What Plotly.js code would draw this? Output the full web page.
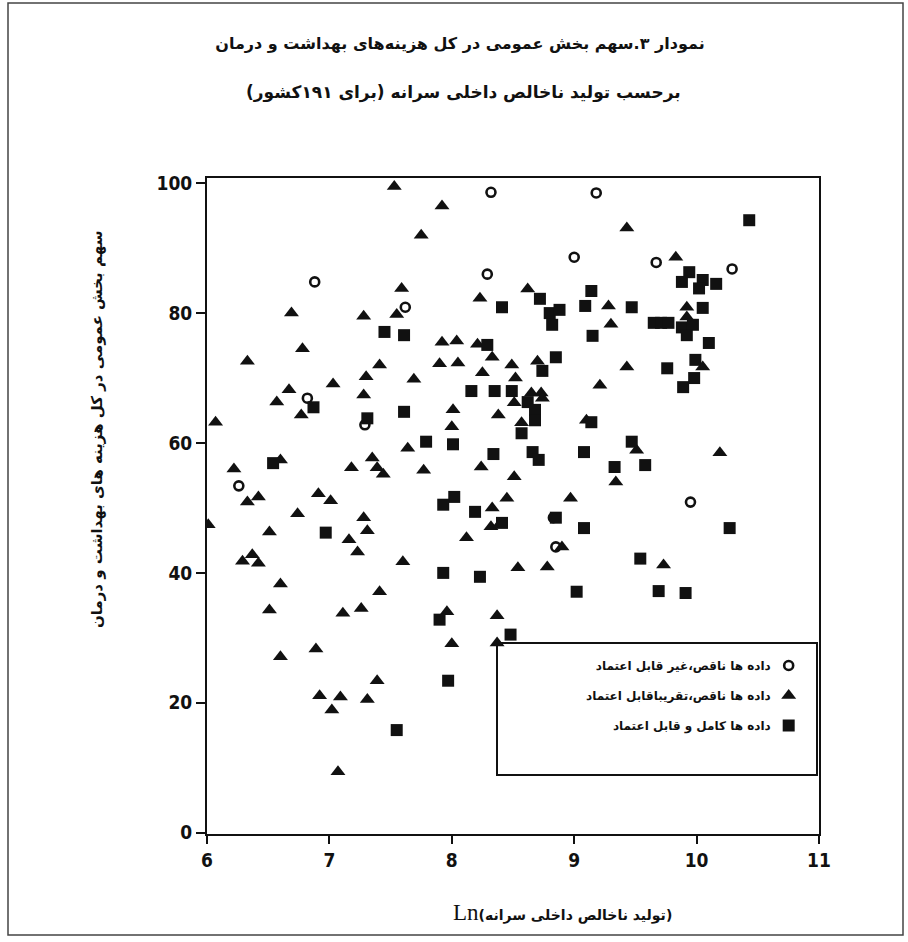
<!DOCTYPE html>
<html>
<head>
<meta charset="utf-8">
<script src="https://cdn.plot.ly/plotly-3.0.1.min.js"></script>
<style>html,body{margin:0;padding:0;background:#fff}#chart{width:908px;height:942px}</style>
</head>
<body>
<div id="chart"></div>
<script>
// ---- Data (x = Ln GDP per capita, y = public share of total health expenditure %) ----
const unreliableX = [6.88, 6.26, 6.82, 7.62, 7.29, 8.32, 8.29, 9.18, 9.00, 9.67, 10.29, 9.95, 8.83, 8.85];
const unreliableY = [84.8, 53.4, 66.9, 80.9, 62.8, 98.6, 86.0, 98.5, 88.6, 87.8, 86.8, 50.9, 48.5, 44.0];

const fairX = [7.53, 7.59, 6.69, 7.28, 7.55, 6.78, 6.33, 7.41, 7.30, 7.03, 6.67, 7.28, 6.57, 6.77, 6.07,
  7.64, 6.60, 6.22, 7.18, 7.35, 7.39, 7.44, 6.33, 6.42, 6.91, 7.01, 6.74, 6.01, 6.51, 7.28,
  7.31, 7.16, 7.23, 6.29, 6.37, 6.42, 7.60, 6.60, 7.41, 6.51, 7.11, 7.26, 6.60, 6.89, 7.39,
  6.92, 7.09, 7.31, 7.02, 7.07, 7.92, 7.75, 8.62, 8.23, 9.28, 9.30, 7.92, 8.04, 7.90, 8.05,
  7.69, 8.21, 8.33, 8.25, 8.49, 8.52, 8.70, 9.21, 8.65, 8.73, 8.51, 8.57, 8.74, 8.01, 8.00,
  7.77, 8.38, 8.24, 8.51, 9.10, 9.34, 8.45, 8.33, 8.32, 8.39, 8.12, 8.97, 8.90, 8.54, 8.78,
  7.96, 8.37, 8.00, 8.37, 9.43, 9.83, 9.92, 9.92, 9.43, 10.05, 9.51, 10.19, 9.73];
const fairY = [99.5, 83.8, 80.0, 79.5, 79.8, 74.5, 72.6, 72.0, 70.2, 69.1, 68.2, 67.4, 66.3, 64.3, 63.2,
  59.2, 57.4, 56.0, 56.2, 57.7, 56.2, 55.2, 50.9, 51.7, 52.2, 51.1, 49.1, 47.4, 46.3, 48.5,
  46.5, 45.1, 43.2, 41.8, 42.8, 41.5, 41.7, 38.3, 37.1, 34.3, 33.8, 34.5, 27.1, 28.3, 23.4,
  21.1, 20.9, 20.5, 18.9, 9.4, 96.5, 92.0, 83.7, 82.3, 81.1, 78.3, 75.5, 75.7, 72.2, 72.3,
  69.8, 75.2, 73.2, 70.8, 72.0, 70.0, 72.6, 68.9, 67.7, 67.7, 66.2, 63.1, 66.9, 65.1, 62.5,
  55.8, 64.3, 56.3, 54.8, 63.5, 54.0, 51.5, 50.0, 47.1, 47.5, 45.4, 51.5, 44.0, 40.8, 40.9,
  34.0, 33.4, 29.1, 29.2, 93.1, 88.6, 80.9, 79.4, 71.7, 71.7, 58.9, 58.5, 41.2];

const reliableX = [7.45, 7.61, 6.87, 7.31, 7.61, 6.54, 6.97, 7.55, 8.41, 8.72, 8.80, 8.88, 8.82, 9.14, 9.09,
  9.15, 8.29, 8.85, 8.74, 8.16, 8.35, 8.49, 8.62, 8.68, 8.68, 8.57, 7.79, 8.01, 8.34, 8.66,
  8.71, 9.14, 9.08, 9.33, 8.02, 7.93, 8.19, 8.41, 8.85, 9.08, 7.93, 8.23, 9.02, 7.90, 8.48,
  7.97, 10.43, 9.94, 9.88, 10.05, 10.02, 10.16, 9.47, 10.05, 9.65, 9.71, 9.77, 9.88, 9.97, 9.92,
  10.10, 9.76, 9.99, 9.98, 9.89, 9.47, 9.58, 10.27, 9.54, 9.69, 9.91];
const reliableY = [77.1, 76.6, 65.5, 63.8, 64.8, 56.9, 46.2, 15.8, 80.9, 82.2, 80.0, 80.5, 78.2, 83.4, 81.1,
  76.5, 75.1, 73.2, 71.1, 68.0, 68.0, 68.0, 66.3, 65.1, 63.5, 61.5, 60.2, 59.8, 58.3, 58.6,
  57.4, 63.2, 58.6, 56.3, 51.7, 50.5, 49.4, 47.7, 48.5, 46.9, 40.0, 39.4, 37.1, 32.8, 30.5,
  23.4, 94.3, 86.3, 84.8, 85.1, 83.8, 84.5, 80.9, 80.8, 78.5, 78.5, 78.5, 77.8, 78.2, 76.6,
  75.4, 71.5, 72.8, 70.0, 68.6, 60.2, 56.6, 46.9, 42.2, 37.2, 36.9];

const seriesNames = ['داده ها ناقص،غیر قابل اعتماد', 'داده ها ناقص،تقریباقابل اعتماد', 'داده ها کامل و قابل اعتماد'];
const xTickVals = [6, 7, 8, 9, 10, 11];
const yTickVals = [0, 20, 40, 60, 80, 100];
const titleLine1 = '\u200Fنمودار ۳.سهم بخش عمومی در کل هزینه‌های بهداشت و درمان\u200F';
const titleLine2 = '\u200Fبرحسب تولید ناخالص داخلی سرانه (برای ۱۹۱کشور)\u200F';
const yTitle = '\u200Fسهم بخش عمومی در کل هزینه های بهداشت و درمان\u200F';
const xTitle = 'تولید ناخالص داخلی سرانه';

// ---- Layout geometry (pixels) ----
const W = 908, H = 942;
const L = 207, R = 819, T = 178, B = 834;
const pw = R - L, ph = B - T;
const px2x = p => (p - L) / pw;
const py2y = p => (B - p) / ph;

const persian = 'DejaVu Sans, sans-serif';
const tickFont = {family: 'Liberation Sans Narrow, DejaVu Sans Condensed, Arial Narrow, sans-serif', size: 19, color: '#111', weight: 'bold'};

const traces = [
  {x: unreliableX, y: unreliableY, name: seriesNames[0], legendgroup: 'a', type: 'scatter', mode: 'markers',
   marker: {symbol: 'circle-open', size: 9, color: '#111', line: {width: 2.6, color: '#111'}}},
  {x: fairX, y: fairY, name: seriesNames[1], legendgroup: 'b', type: 'scatter', mode: 'markers',
   marker: {symbol: 'triangle-up', size: 13, color: '#111'}},
  {x: reliableX, y: reliableY, name: seriesNames[2], legendgroup: 'c', type: 'scatter', mode: 'markers',
   marker: {symbol: 'square', size: 12, color: '#111'}}
];

const layout = {
  width: W, height: H,
  margin: {l: L, r: W - R, t: T, b: H - B, pad: 0},
  paper_bgcolor: '#fff', plot_bgcolor: '#fff',
  showlegend: true,
  title: {text: titleLine1, font: {family: persian, size: 16, weight: 'bold', color: '#111'},
          x: 460 / W, xref: 'container', xanchor: 'center', y: 1 - 43 / H, yref: 'container', yanchor: 'middle'},
  xaxis: {range: [6, 11], tickvals: xTickVals, ticktext: xTickVals.map(String), showgrid: false, zeroline: false,
          showline: true, linewidth: 2, linecolor: '#111', mirror: true,
          ticks: 'outside', ticklen: 8, tickwidth: 2, tickcolor: '#111', tickfont: tickFont},
  yaxis: {range: [-0.2, 100.8], tickvals: yTickVals, ticktext: yTickVals.map(String), showgrid: false, zeroline: false,
          showline: true, linewidth: 2, linecolor: '#111', mirror: true,
          ticks: 'outside', ticklen: 9, tickwidth: 2, tickcolor: '#111', tickfont: tickFont},
  legend: {x: px2x(806), xanchor: 'right', y: py2y(651), yanchor: 'top', bgcolor: 'rgba(0,0,0,0)',
           borderwidth: 0, font: {family: persian, size: 12, color: '#111', weight: 'bold'},
           tracegroupgap: 11, traceorder: 'grouped'},
  shapes: [
    {type: 'rect', xref: 'paper', yref: 'paper', x0: px2x(8), x1: px2x(903), y0: py2y(935), y1: py2y(3),
     line: {color: '#444', width: 1.5}, fillcolor: 'rgba(0,0,0,0)', layer: 'below'},
    {type: 'rect', xref: 'paper', yref: 'paper', x0: px2x(497), x1: px2x(817), y0: py2y(775), y1: py2y(643),
     line: {color: '#111', width: 2}, fillcolor: '#fff', layer: 'below'}
  ],
  annotations: [
    {text: titleLine2, xref: 'paper', yref: 'paper', x: px2x(463), y: py2y(93), showarrow: false,
     xanchor: 'center', yanchor: 'middle', font: {family: persian, size: 17, weight: 'bold', color: '#111'}},
    {text: yTitle, xref: 'paper', yref: 'paper', x: px2x(97), y: py2y(430), showarrow: false, textangle: -90,
     xanchor: 'center', yanchor: 'middle', font: {family: persian, size: 15, weight: 'bold', color: '#111'}},
    {text: '<span style="font-family:Liberation Serif;font-size:23px;font-weight:normal">Ln</span>(' + xTitle + ')',
     xref: 'paper', yref: 'paper', x: px2x(562), y: py2y(912), showarrow: false,
     xanchor: 'center', yanchor: 'middle', font: {family: persian, size: 14, weight: 'bold', color: '#111'}}
  ]
};

const gd = document.getElementById('chart');
Plotly.newPlot(gd, traces, layout, {displayModeBar: false, staticPlot: true}).then(function () {
  try {
    const items = gd.querySelectorAll('.legend .traces');
    let maxW = 0;
    items.forEach(function (it) {
      const t = it.querySelector('text.legendtext');
      if (t) maxW = Math.max(maxW, t.getComputedTextLength());
    });
    items.forEach(function (it) {
      const t = it.querySelector('text.legendtext');
      const lay = it.querySelector('g.layers');
      if (t && lay) {
        t.setAttribute('text-anchor', 'end');
        t.setAttribute('x', String(maxW + 10));
        lay.setAttribute('transform', 'translate(' + (maxW + 8) + ',0)');
      }
    });
  } catch (e) {}
});
</script>
</body>
</html>
